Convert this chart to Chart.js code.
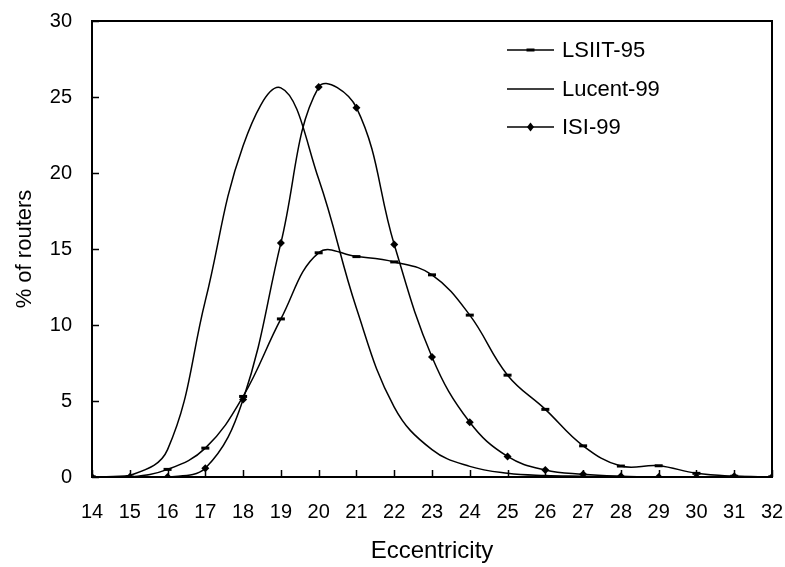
<!DOCTYPE html>
<html>
<head>
<meta charset="utf-8">
<script src="https://cdn.jsdelivr.net/npm/chart.js@4.4.1/dist/chart.umd.min.js"></script>
<style>
html,body{margin:0;padding:0;background:#fff;}
#wrap{width:785px;height:567px;position:relative;}
</style>
</head>
<body>
<div id="wrap"><canvas id="c"></canvas></div>
<script>
const eccentricity = [14,15,16,17,18,19,20,21,22,23,24,25,26,27,28,29,30,31,32];
const lsiit95 = [0,0,0.5,1.9,5.3,10.4,14.75,14.5,14.15,13.3,10.65,6.7,4.45,2.05,0.72,0.74,0.24,0.05,0];
const lucent99 = [0,0.1,1.8,11.6,21.8,25.6,19.6,11.1,4.6,1.8,0.7,0.25,0.1,0.05,0,0,0,0,0];
const isi99 = [0,0,0,0.57,5.1,15.4,25.65,24.3,15.3,7.9,3.6,1.35,0.46,0.18,0.05,0,0,0.05,0];
const xTicks = {min:14, max:32, step:1};
const yTicks = {min:0, max:30, step:5};
const seriesNames = ['LSIIT-95','Lucent-99','ISI-99'];

const FONT = 'Liberation Sans, Arial, sans-serif';
const toPts = arr => arr.map((v,i)=>({x:eccentricity[i], y:v}));

const framePlugin = {
  id:'frame',
  afterDraw(chart){
    const {ctx, chartArea:a, scales:{x,y}} = chart;
    ctx.save();
    ctx.strokeStyle = '#000';
    ctx.lineWidth = 2;
    ctx.strokeRect(a.left, a.top, a.right-a.left, a.bottom-a.top);
    ctx.lineWidth = 1.5;
    ctx.beginPath();
    for(let v=xTicks.min; v<=xTicks.max; v+=xTicks.step){
      const px = Math.round(x.getPixelForValue(v))+0.5;
      ctx.moveTo(px, a.bottom); ctx.lineTo(px, a.bottom-7);
    }
    for(let v=yTicks.min; v<=yTicks.max; v+=yTicks.step){
      const py = Math.round(y.getPixelForValue(v))+0.5;
      ctx.moveTo(a.left, py); ctx.lineTo(a.left+7, py);
    }
    ctx.stroke();
    // legend
    const lx0 = 507, lx1 = 554, tx = 562;
    const ys = [50, 89, 127];
    chart.data.datasets.forEach((ds,i)=>{
      const yy = ys[i];
      ctx.strokeStyle = '#000'; ctx.lineWidth = 1.5;
      ctx.beginPath(); ctx.moveTo(lx0,yy); ctx.lineTo(lx1,yy); ctx.stroke();
      const cx = (lx0+lx1)/2;
      if(ds.pointStyle==='line'){
        ctx.lineWidth = 3; ctx.beginPath(); ctx.moveTo(cx-4,yy); ctx.lineTo(cx+4,yy); ctx.stroke();
      } else if(ds.pointStyle==='rectRot'){
        ctx.fillStyle='#000'; ctx.beginPath();
        ctx.moveTo(cx,yy-4.5); ctx.lineTo(cx+3.5,yy); ctx.lineTo(cx,yy+4.5); ctx.lineTo(cx-3.5,yy); ctx.closePath(); ctx.fill();
      }
      ctx.fillStyle = '#000';
      ctx.font = '22px ' + FONT;
      ctx.textBaseline = 'middle';
      ctx.textAlign = 'left';
      ctx.fillText(ds.label, tx, yy+1);
    });
    ctx.restore();
  }
};

new Chart(document.getElementById('c'), {
  type:'line',
  data:{
    datasets:[
      {label:seriesNames[0], data:toPts(lsiit95), borderColor:'#000', backgroundColor:'#000', borderWidth:1.5,
       pointStyle:'line', pointRadius:4, pointBorderWidth:3, tension:0.4},
      {label:seriesNames[1], data:toPts(lucent99), borderColor:'#000', backgroundColor:'#000', borderWidth:1.5,
       pointRadius:0, tension:0.4},
      {label:seriesNames[2], data:toPts(isi99), borderColor:'#000', backgroundColor:'#000', borderWidth:1.5,
       pointStyle:'rectRot', pointRadius:4, pointBorderWidth:0, tension:0.4}
    ]
  },
  options:{
    responsive:true, maintainAspectRatio:false, animation:false,
    layout:{padding:{top:21, right:13, left:0, bottom:0}, autoPadding:false},
    plugins:{legend:{display:false}, tooltip:{enabled:false}},
    scales:{
      x:{type:'linear', min:xTicks.min, max:xTicks.max,
         grid:{display:false, drawTicks:false}, border:{display:false},
         ticks:{stepSize:xTicks.step, padding:23, color:'#000', font:{family:FONT, size:20}, maxRotation:0, autoSkip:false},
         title:{display:true, text:'Eccentricity', color:'#000', font:{family:FONT, size:24}, padding:{top:0,bottom:1}},
         afterFit(s){ s.height = 90; s.paddingLeft = 0; s.paddingRight = 0; }
      },
      y:{min:yTicks.min, max:yTicks.max,
         grid:{display:false, drawTicks:false}, border:{display:false},
         ticks:{stepSize:yTicks.step, padding:20, color:'#000', font:{family:FONT, size:20}},
         title:{display:true, text:'% of routers', color:'#000', font:{family:FONT, size:22}, padding:{top:12,bottom:0}},
         afterFit(s){ s.width = 92; s.paddingTop = 0; s.paddingBottom = 0; }
      }
    }
  },
  plugins:[framePlugin]
});
</script>
</body>
</html>
